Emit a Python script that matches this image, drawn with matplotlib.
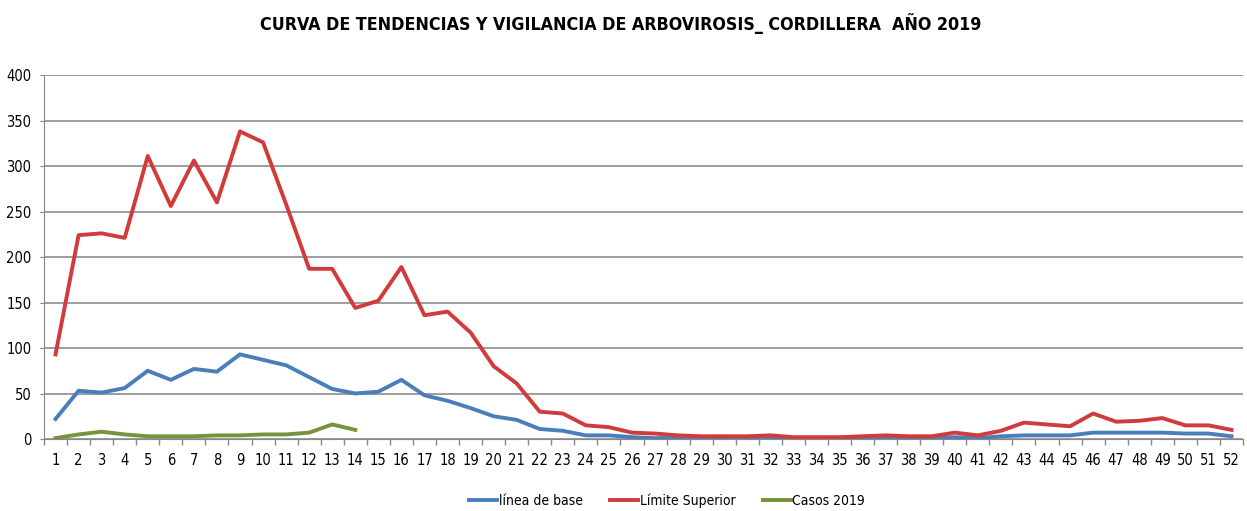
import matplotlib
matplotlib.use('Agg')
import matplotlib.pyplot as plt
import numpy as np

weeks = list(range(1, 53))

linea_base = [22, 53, 51, 56, 75, 65, 77, 74, 93, 87, 81, 68, 55, 50, 52, 65,
              48, 42, 34, 25, 21, 11, 9, 4, 4, 2, 1, 1, 1, 1, 1, 1, 0, 1, 1,
              1, 1, 1, 1, 2, 1, 3, 4, 4, 4, 7, 7, 7, 7, 6, 6, 3]

limite_superior = [93, 224, 226, 221, 311, 256, 306, 260, 338, 326, 258, 187,
                   187, 144, 152, 189, 136, 140, 117, 80, 61, 30, 28, 15, 13,
                   7, 6, 4, 3, 3, 3, 4, 2, 2, 2, 3, 4, 3, 3, 7, 4, 9, 18, 16,
                   14, 28, 19, 20, 23, 15, 15, 10]

casos_2019 = [1, 5, 8, 5, 3, 3, 3, 4, 4, 5, 5, 7, 16, 10]

# fuente condensada, parecida a la del original
plt.rcParams['font.family'] = ['DejaVu Sans']
plt.rcParams['font.stretch'] = 'condensed'

fig = plt.figure(figsize=(12.47, 5.11), dpi=100)
ax = fig.add_axes([44 / 1247, 1 - 439 / 511, 1199 / 1247, 364 / 511])

x = np.arange(len(weeks))
ax.plot(x, linea_base, color='#4A7EBB', lw=2.8, label='línea de base', solid_joinstyle='round')
ax.plot(x, limite_superior, color='#D13B3B', lw=2.8, label='Límite Superior', solid_joinstyle='round')
ax.plot(np.arange(len(casos_2019)), casos_2019, color='#77933C', lw=2.8, label='Casos 2019',
        solid_joinstyle='round')

ax.set_xlim(-0.5, len(weeks) - 0.5)
ax.set_ylim(0, 400)
ax.set_yticks(range(0, 401, 50))
ax.set_xticks(x)
ax.set_xticklabels([str(w) for w in weeks])
ax.set_xticks(np.arange(-0.5, len(weeks)), minor=True)
ax.tick_params(axis='x', which='major', length=0, labelsize=10.5, pad=10)
ax.tick_params(axis='x', which='minor', length=4, color='#888888', width=1)
ax.tick_params(axis='y', length=3, color='#888888', labelsize=10.5, pad=6)

ax.grid(axis='y', color='#8c8c8c', lw=1.2)
ax.set_axisbelow(True)
for s in ['top', 'right']:
    ax.spines[s].set_visible(False)
ax.spines['left'].set_color('#888888')
ax.spines['bottom'].set_color('#888888')

fig.suptitle('CURVA DE TENDENCIAS Y VIGILANCIA DE ARBOVIROSIS_ CORDILLERA  AÑO 2019',
             x=0.498, y=0.975, fontsize=12.8, fontweight='bold')

fig.legend(loc='center', bbox_to_anchor=(0.535, 0.02), ncol=3, frameon=False,
           fontsize=10, handlelength=2.0, handletextpad=0.1, columnspacing=2.0)

fig.savefig('out.png', dpi=100)
